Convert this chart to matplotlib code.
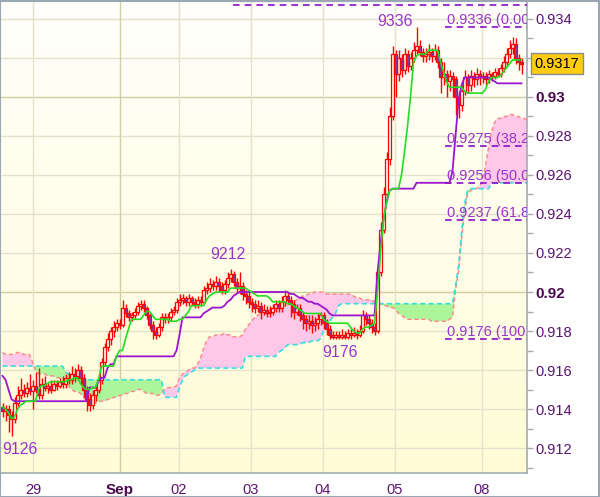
import numpy as np
import matplotlib
matplotlib.use('Agg')
import matplotlib.pyplot as plt
from matplotlib.patches import Rectangle

plt.rcParams['font.family'] = ['Liberation Sans', 'DejaVu Sans']

# ---------------- data (prices in pips: value * 10000) ----------------
close_p = [9139, 9140, 9137, 9135, 9143, 9147, 9150, 9148, 9151, 9149,
           9152, 9150, 9147, 9153, 9151, 9152, 9150, 9153, 9152, 9154,
           9153, 9156, 9155, 9158, 9157, 9160, 9156, 9150, 9145, 9142,
           9147, 9150, 9155, 9164, 9172, 9176, 9180, 9182, 9184, 9183,
           9192, 9189, 9187, 9188, 9190, 9193, 9194, 9192, 9188, 9183,
           9180, 9178, 9182, 9187, 9186, 9187, 9190, 9191, 9195, 9196,
           9197, 9195, 9197, 9195, 9194, 9196, 9195, 9201, 9202, 9204,
           9203, 9205, 9203, 9201, 9204, 9207, 9209, 9205, 9202, 9203,
           9199, 9198, 9195, 9194, 9192, 9193, 9190, 9191, 9189, 9190,
           9192, 9194, 9192, 9195, 9198, 9196, 9194, 9190, 9192, 9188,
           9186, 9184, 9185, 9183, 9184, 9186, 9188, 9184, 9181, 9178,
           9177, 9178, 9177, 9178, 9177, 9179, 9178, 9179, 9178, 9180,
           9188, 9186, 9184, 9182, 9180, 9210, 9232, 9250, 9268, 9290,
           9322, 9312, 9320, 9314, 9322, 9316, 9320, 9324, 9326, 9323,
           9321, 9322, 9323, 9321, 9324, 9318, 9310, 9312, 9308, 9311,
           9309, 9300, 9296, 9303, 9310, 9306, 9311, 9309, 9312, 9310,
           9311, 9309, 9312, 9311, 9313, 9312, 9315, 9318, 9322, 9325,
           9327, 9320, 9318, 9317]

open_p = [9141, 9139, 9140, 9137, 9135, 9143, 9147, 9150, 9148, 9151,
          9149, 9152, 9150, 9147, 9153, 9151, 9152, 9150, 9153, 9152,
          9154, 9153, 9156, 9155, 9158, 9157, 9160, 9156, 9150, 9145,
          9142, 9147, 9150, 9155, 9164, 9172, 9176, 9180, 9182, 9184,
          9183, 9192, 9189, 9187, 9188, 9190, 9193, 9194, 9192, 9188,
          9183, 9180, 9178, 9182, 9187, 9186, 9187, 9190, 9191, 9195,
          9196, 9197, 9195, 9197, 9195, 9194, 9196, 9195, 9201, 9202,
          9204, 9203, 9205, 9203, 9201, 9204, 9207, 9209, 9205, 9202,
          9203, 9199, 9198, 9195, 9194, 9192, 9193, 9190, 9191, 9189,
          9190, 9192, 9194, 9192, 9195, 9198, 9196, 9194, 9190, 9192,
          9188, 9186, 9184, 9185, 9183, 9184, 9186, 9188, 9184, 9181,
          9178, 9177, 9178, 9177, 9178, 9177, 9179, 9178, 9179, 9178,
          9180, 9188, 9186, 9184, 9182, 9180, 9210, 9232, 9250, 9268,
          9290, 9322, 9312, 9320, 9314, 9322, 9316, 9320, 9324, 9326,
          9323, 9321, 9322, 9323, 9321, 9324, 9318, 9310, 9312, 9308,
          9311, 9309, 9300, 9296, 9303, 9310, 9306, 9311, 9309, 9312,
          9310, 9311, 9309, 9312, 9311, 9313, 9312, 9315, 9318, 9322,
          9325, 9327, 9320, 9318]

high_p = [9143, 9142, 9142, 9139, 9146, 9152, 9156, 9153, 9154, 9158,
          9155, 9159, 9161, 9156, 9157, 9154, 9155, 9155, 9155, 9156,
          9157, 9158, 9159, 9162, 9161, 9163, 9162, 9158, 9152, 9148,
          9150, 9153, 9158, 9166, 9174, 9179, 9182, 9185, 9186, 9186,
          9196, 9194, 9191, 9190, 9192, 9195, 9196, 9196, 9193, 9189,
          9185, 9182, 9184, 9189, 9189, 9189, 9192, 9193, 9197, 9199,
          9199, 9198, 9199, 9198, 9197, 9198, 9198, 9203, 9205, 9207,
          9206, 9208, 9207, 9205, 9206, 9210, 9212, 9211, 9207, 9210,
          9205, 9201, 9200, 9197, 9196, 9196, 9195, 9194, 9193, 9193,
          9194, 9196, 9196, 9198, 9201, 9200, 9198, 9196, 9194, 9194,
          9190, 9188, 9188, 9188, 9187, 9189, 9190, 9190, 9186, 9183,
          9180, 9180, 9180, 9181, 9180, 9181, 9181, 9182, 9181, 9183,
          9191, 9190, 9188, 9186, 9184, 9214, 9236, 9254, 9272, 9295,
          9326, 9324, 9324, 9322, 9325, 9324, 9323, 9328, 9336, 9329,
          9325, 9325, 9327, 9325, 9327, 9326, 9320, 9318, 9314, 9314,
          9313, 9311, 9303, 9306, 9314, 9312, 9314, 9313, 9315, 9314,
          9313, 9313, 9314, 9313, 9315, 9315, 9317, 9321, 9325, 9329,
          9331, 9330, 9322, 9320]

low_p = [9136, 9134, 9128, 9126, 9133, 9141, 9145, 9146, 9146, 9147,
         9140, 9148, 9145, 9145, 9149, 9148, 9148, 9149, 9150, 9151,
         9151, 9151, 9153, 9153, 9154, 9155, 9153, 9146, 9139, 9139,
         9140, 9144, 9148, 9153, 9162, 9170, 9173, 9177, 9180, 9181,
         9182, 9187, 9185, 9185, 9186, 9188, 9191, 9190, 9186, 9181,
         9176, 9176, 9177, 9180, 9184, 9184, 9185, 9188, 9189, 9193,
         9194, 9193, 9193, 9193, 9192, 9192, 9193, 9194, 9199, 9200,
         9201, 9201, 9200, 9199, 9199, 9202, 9205, 9203, 9200, 9199,
         9196, 9194, 9192, 9190, 9189, 9190, 9186, 9188, 9187, 9187,
         9188, 9190, 9190, 9190, 9193, 9194, 9187, 9186, 9188, 9185,
         9181, 9180, 9181, 9179, 9180, 9181, 9183, 9181, 9178, 9176,
         9176, 9176, 9176, 9176, 9176, 9176, 9176, 9177, 9176, 9177,
         9179, 9183, 9181, 9179, 9178, 9179, 9208, 9230, 9247, 9265,
         9288, 9300, 9308, 9310, 9312, 9313, 9314, 9318, 9322, 9321,
         9318, 9318, 9319, 9318, 9319, 9315, 9302, 9306, 9300, 9303,
         9300, 9291, 9289, 9293, 9301, 9302, 9303, 9305, 9306, 9306,
         9307, 9306, 9307, 9308, 9309, 9310, 9310, 9313, 9316, 9320,
         9322, 9317, 9314, 9312]

tenkan_p = ([9141, 9140, 9138, 9135, 9136, 9140, 9142, 9143] + [9144] * 4 +
            [9150, 9152, 9152, 9153] + [9154] * 6 + [9155, 9155, 9156, 9156] +
            [9153, 9151, 9150, 9150, 9151, 9151, 9155, 9162] + [9162] * 4 +
            [9167, 9170, 9170, 9176, 9181, 9186] + [9186] * 3 +
            [9188, 9190, 9190, 9188, 9186] + [9186] * 4 + [9185] * 3 +
            [9186, 9186, 9188, 9190, 9193] + [9193] * 4 + [9196, 9198, 9199] +
            [9200] * 5 + [9202] * 6 + [9201, 9200, 9199] + [9198] * 4 + [9197] +
            [9195] * 5 + [9194, 9194, 9193, 9192, 9191, 9190] + [9189] * 6 +
            [9186, 9185] + [9184] * 7 +
            [9182, 9180, 9179, 9179, 9181, 9182, 9182, 9183, 9184, 9200, 9220,
             9237, 9246, 9252] + [9253] * 3 +
            [9260, 9272, 9285, 9300, 9318, 9321] + [9322] * 3 + [9324] * 4 +
            [9318, 9313, 9308] + [9305] * 5 + [9303] + [9302] * 6 + [9304, 9308] +
            [9310] * 3 + [9311, 9313, 9315, 9317] + [9319] * 4)

kijun_p = ([9157, 9155, 9150, 9145] + [9144] * 25 + [9151] * 3 +
           [9154, 9156, 9156, 9161, 9163, 9163, 9167] + [9167] * 19 +
           [9170, 9178] + [9187] * 7 + [9189, 9190, 9191] + [9192] * 4 +
           [9193, 9195, 9196, 9198, 9199] + [9200] * 17 +
           [9199, 9199, 9198, 9197, 9197, 9196, 9195, 9195, 9194, 9194, 9193,
            9192, 9191, 9189] + [9188] * 15 +
           [9210, 9225, 9237, 9246, 9252] + [9253] * 8 + [9256] * 12 +
           [9262, 9280, 9298, 9306] + [9310] * 9 + [9309, 9308] + [9307] * 9)

span_a_p = [9169, 9168, 9168, 9168, 9168, 9169, 9169, 9168, 9168, 9168,
            9164, 9160, 9158, 9158, 9158, 9157, 9157, 9157, 9156, 9156,
            9155, 9153, 9152, 9150, 9149, 9149, 9148, 9146, 9144, 9142,
            9143, 9143, 9144, 9144, 9144, 9145, 9145, 9146, 9146, 9147,
            9147, 9148, 9148, 9149, 9149, 9150, 9150, 9149, 9148, 9148,
            9148, 9147, 9147, 9148, 9150, 9151, 9151, 9151, 9152, 9156,
            9158, 9159, 9160, 9161, 9161, 9163, 9166, 9171, 9175, 9177,
            9177, 9178, 9178, 9178, 9179, 9178, 9178, 9177, 9177, 9177,
            9178, 9181, 9183, 9185, 9187, 9188, 9189, 9190, 9190, 9191,
            9191, 9192, 9192, 9193, 9193, 9194, 9194, 9195, 9196, 9197,
            9198, 9198, 9199, 9199, 9200, 9200, 9200, 9200] + [9199] * 9 + \
           [9198, 9197, 9197, 9196, 9196, 9196, 9196, 9195, 9194, 9194,
            9193, 9193, 9192, 9192, 9191, 9189, 9188, 9187, 9186] + \
           [9186] * 7 + [9185] * 6 + \
           [9186, 9187, 9201, 9210, 9227, 9241, 9250, 9252, 9253, 9253,
            9254, 9257, 9265, 9274, 9282, 9287, 9289, 9289, 9290, 9290,
            9291, 9291, 9290, 9290, 9289, 9289, 9288]

span_b_p = ([9162] * 21 + [9159, 9158, 9157, 9157, 9156, 9156] + [9155] * 27 +
            [9146] * 5 + [9151, 9155, 9157, 9158, 9159, 9160] + [9161] * 16 +
            [9167] * 11 + [9169, 9170, 9171] + [9173] * 5 + [9174] * 3 +
            [9175] * 3 + [9176, 9180, 9183, 9185, 9187, 9189, 9193] +
            [9194] * 38 + [9203, 9213, 9230, 9245, 9252] + [9253] * 7 +
            [9256] * 13)

day_labels = ['29', 'Sep', '02', '03', '04', '05', '08']
day_bold = [False, True, False, False, False, False, False]

fib_levels = [0.9336, 0.9275, 0.9256, 0.9237, 0.9176]
fib_texts = ['0.9336 (0.00', '0.9275 (38.2', '0.9256 (50.0',
             '0.9237 (61.8', '0.9176 (100.']

extreme_labels = ['9336', '9212', '9176', '9126']
last_price = 0.9317
y_major = [0.912, 0.914, 0.916, 0.918, 0.92, 0.922, 0.924, 0.926, 0.928,
           0.93, 0.932, 0.934]

# ---------------- conversion ----------------
O = np.array(open_p) / 1e4
H = np.array(high_p) / 1e4
L = np.array(low_p) / 1e4
C = np.array(close_p) / 1e4
tenkan = np.array(tenkan_p) / 1e4
kijun = np.array(kijun_p) / 1e4
span_a = np.array(span_a_p) / 1e4
span_b = np.array(span_b_p) / 1e4
xb = np.arange(len(C))
xs = np.arange(len(span_a))

# ---------------- figure ----------------
fig = plt.figure(figsize=(6.0, 4.97), dpi=100)
fig.patch.set_facecolor('white')
ax = fig.add_axes([1 / 600, 24 / 497, 526 / 600, 472 / 497])
x_lo, x_hi = -0.5, 174.83
y_lo, y_hi = 0.910718, 0.934923
ax.set_xlim(x_lo, x_hi)
ax.set_ylim(y_lo, y_hi)

# background gradient
grad = np.linspace(0, 1, 256).reshape(-1, 1)
top_c = np.array([1.0, 1.0, 0.985])
bot_c = np.array([1.0, 0.99, 0.84])
img = top_c[None, None, :] * (1 - grad[:, :, None]) + bot_c[None, None, :] * grad[:, :, None]
ax.imshow(img, extent=[0, 1, 0, 1], transform=ax.transAxes, aspect='auto',
          zorder=0, interpolation='bilinear')

# grid
for v in y_major:
    strong = abs(v - 0.92) < 1e-9 or abs(v - 0.93) < 1e-9
    ax.axhline(v, color='#cfcfa6' if strong else '#e3e3cc', lw=1.0, zorder=1)
day_pos = [10.2, 39.2, 58.8, 82.8, 106.8, 130.8, 159.8]
for p, b in zip(day_pos, day_bold):
    ax.axvline(p, color='#cfcfa6' if b else '#e3e3cc', lw=1.0, zorder=1)

# cloud
ax.fill_between(xs, span_a, span_b, where=span_a >= span_b, interpolate=True,
                color='#ffc8e8', lw=0, zorder=2)
ax.fill_between(xs, span_a, span_b, where=span_a < span_b, interpolate=True,
                color='#acf59a', lw=0, zorder=2)
ax.plot(xs, span_a, color='#ff8585', lw=1.0, ls=(0, (3, 2)), zorder=3)
ax.plot(xs, span_b, color='#35dede', lw=1.2, ls=(0, (3, 2)), zorder=3)

# candles
ax.vlines(xb, L, H, color='#ff0000', lw=1.0, zorder=4)
bull = C >= O
body_lo = np.minimum(O, C)
body_h = np.maximum(np.abs(C - O), 0.00002)
ax.bar(xb[bull], body_h[bull], bottom=body_lo[bull], width=0.7,
       facecolor='#fffbe0', edgecolor='#ff0000', lw=0.9, zorder=5)
ax.bar(xb[~bull], body_h[~bull], bottom=body_lo[~bull], width=0.7,
       facecolor='#7a3cb0', edgecolor='#ff0000', lw=0.9, zorder=5)

# tenkan / kijun
ax.plot(xb, kijun, color='#9b14cf', lw=1.3, zorder=6)
ax.plot(xb, tenkan, color='#22dd22', lw=1.2, zorder=6)

# fibonacci levels
fib_x0 = 147.5
for lv, tx in zip(fib_levels, fib_texts):
    ax.hlines(lv, fib_x0, x_hi, colors='#8a10c8', linestyles=(0, (4, 3)), lw=1.2, zorder=7)
    ax.text(fib_x0 + 0.8, lv + 0.00015, tx, ha='left', va='baseline', fontsize=10.5,
            color='#9a33cc', clip_on=True, zorder=8)

# lines at the very top (partly cut off objects)
ax.hlines(0.93472, 76.8, x_hi, colors='#8a10c8', linestyles=(0, (4, 3)), lw=1.2, zorder=7)
ax.hlines(0.93492, 78.0, 114.0, colors='#ff2020', linestyles=(0, (3, 2)), lw=1.5, zorder=7)

# extreme labels
lab_pos = [(130.8, 0.93385), (75.2, 0.9219), (112.5, 0.91692), (5.8, 0.9119)]
for t, (px, py) in zip(extreme_labels, lab_pos):
    ax.text(px, py, t, ha='center', va='center', fontsize=11.5, color='#9a33cc', zorder=8)

# axes styling
for s in ['top', 'left']:
    ax.spines[s].set_visible(False)
for s in ['right', 'bottom']:
    ax.spines[s].set_color('#a3abb3')
    ax.spines[s].set_linewidth(1.2)

ax.yaxis.tick_right()
ax.set_yticks(y_major)
ax.set_yticks([v + 0.001 for v in y_major[:-1]] + [0.911], minor=True)
ylabels = []
for v in y_major:
    ylabels.append(('%.3f' % v).rstrip('0'))
ax.set_yticklabels(ylabels)
ax.tick_params(axis='y', which='both', direction='out', length=4, width=1,
               color='#a3abb3', pad=2, labelsize=10.5, labelcolor='#5a1470')
for lbl, v in zip(ax.get_yticklabels(), y_major):
    if abs(v - 0.92) < 1e-9 or abs(v - 0.93) < 1e-9:
        lbl.set_fontweight('bold')
        lbl.set_fontsize(11)
        lbl.set_color('#4a0a50')

ax.set_xticks(day_pos)
ax.set_xticklabels(day_labels)
ax.tick_params(axis='x', length=0, pad=7, labelsize=10.5, labelcolor='#5a1470')
for lbl, b in zip(ax.get_xticklabels(), day_bold):
    if b:
        lbl.set_fontweight('bold')
        lbl.set_fontsize(11)
        lbl.set_color('#4a0a50')

# current price box
ax.annotate('%.4f' % last_price, xy=(1, last_price), xycoords=('axes fraction', 'data'),
            xytext=(5.5, 0), textcoords='offset points', ha='left', va='center',
            fontsize=10.5, color='black', annotation_clip=False, zorder=10,
            bbox=dict(boxstyle='square,pad=0.25', fc='#ffcc10', ec='#8a8a8a', lw=1))

# figure border
fig.patches.append(Rectangle((0.0008, 0.001), 0.9975, 0.997, transform=fig.transFigure,
                             fill=False, edgecolor='#9aa6b2', lw=1.5))

fig.savefig('out.png', dpi=100)
